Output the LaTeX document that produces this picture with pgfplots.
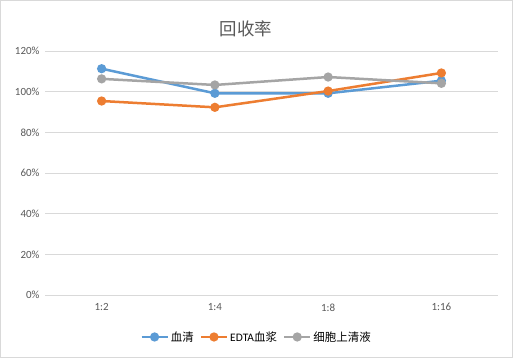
\documentclass[border=0pt]{standalone}
\usepackage{fontspec}
\setmainfont{Carlito}
\newfontfamily\cjk{Noto Sans CJK SC}
\usepackage{pgfplots}
\pgfplotsset{compat=1.18}
\definecolor{cblue}{HTML}{5B9BD5}
\definecolor{corange}{HTML}{ED7D31}
\definecolor{cgray}{HTML}{A5A5A5}
\definecolor{gridc}{HTML}{D9D9D9}
\definecolor{txt}{HTML}{595959}
\begin{document}
\begin{tikzpicture}[x=1bp,y=1bp]
\fill[white] (0,0) rectangle (513,358);
\draw[gridc, line width=0.75bp] (0.5,0.5) rectangle (512.5,357.5);
\node[font=\cjk\fontsize{17.5}{19}\selectfont, text=txt] at (246,329) {回收率};
\begin{axis}[
  at={(45bp,63bp)}, anchor=south west,
  scale only axis, width=453bp, height=244bp,
  xmin=-0.5, xmax=3.5, ymin=0, ymax=1.2,
  axis line style={draw=none},
  xtick={0,1,2,3}, xticklabels={1:2,1:4,1:8,1:16},
  ytick={0,0.2,0.4,0.6,0.8,1.0,1.2},
  yticklabels={0\%,20\%,40\%,60\%,80\%,100\%,120\%},
  ymajorgrids, grid style={gridc, line width=0.75bp},
  major tick length=0pt,
  tick label style={font=\fontsize{11}{12}\selectfont, text=txt},
  yticklabel style={xshift=-2bp},
  xticklabel style={yshift=-5bp},
  legend columns=3,
  legend style={at={(0.467,-0.172)}, anchor=center, draw=none, fill=none,
    font=\fontsize{11.5}{13}\selectfont, /tikz/every even column/.append style={column sep=4bp}},
  legend image code/.code={\draw[mark repeat=2,mark phase=2,#1] plot coordinates {(0bp,0bp) (13bp,0bp) (26bp,0bp)};},
]
\addplot[cblue, line width=2.5bp, mark=*, mark size=3.3bp, mark options={fill=cblue, draw=cblue}] coordinates {(0,1.113) (1,0.992) (2,0.992) (3,1.054)};
\addlegendentry{\cjk 血清}
\addplot[corange, line width=2.5bp, mark=*, mark size=3.3bp, mark options={fill=corange, draw=corange}] coordinates {(0,0.954) (1,0.923) (2,1.003) (3,1.092)};
\addlegendentry{EDTA\cjk 血浆}
\addplot[cgray, line width=2.5bp, mark=*, mark size=3.3bp, mark options={fill=cgray, draw=cgray}] coordinates {(0,1.063) (1,1.033) (2,1.072) (3,1.041)};
\addlegendentry{\cjk 细胞上清液}
\end{axis}
\end{tikzpicture}
\end{document}
